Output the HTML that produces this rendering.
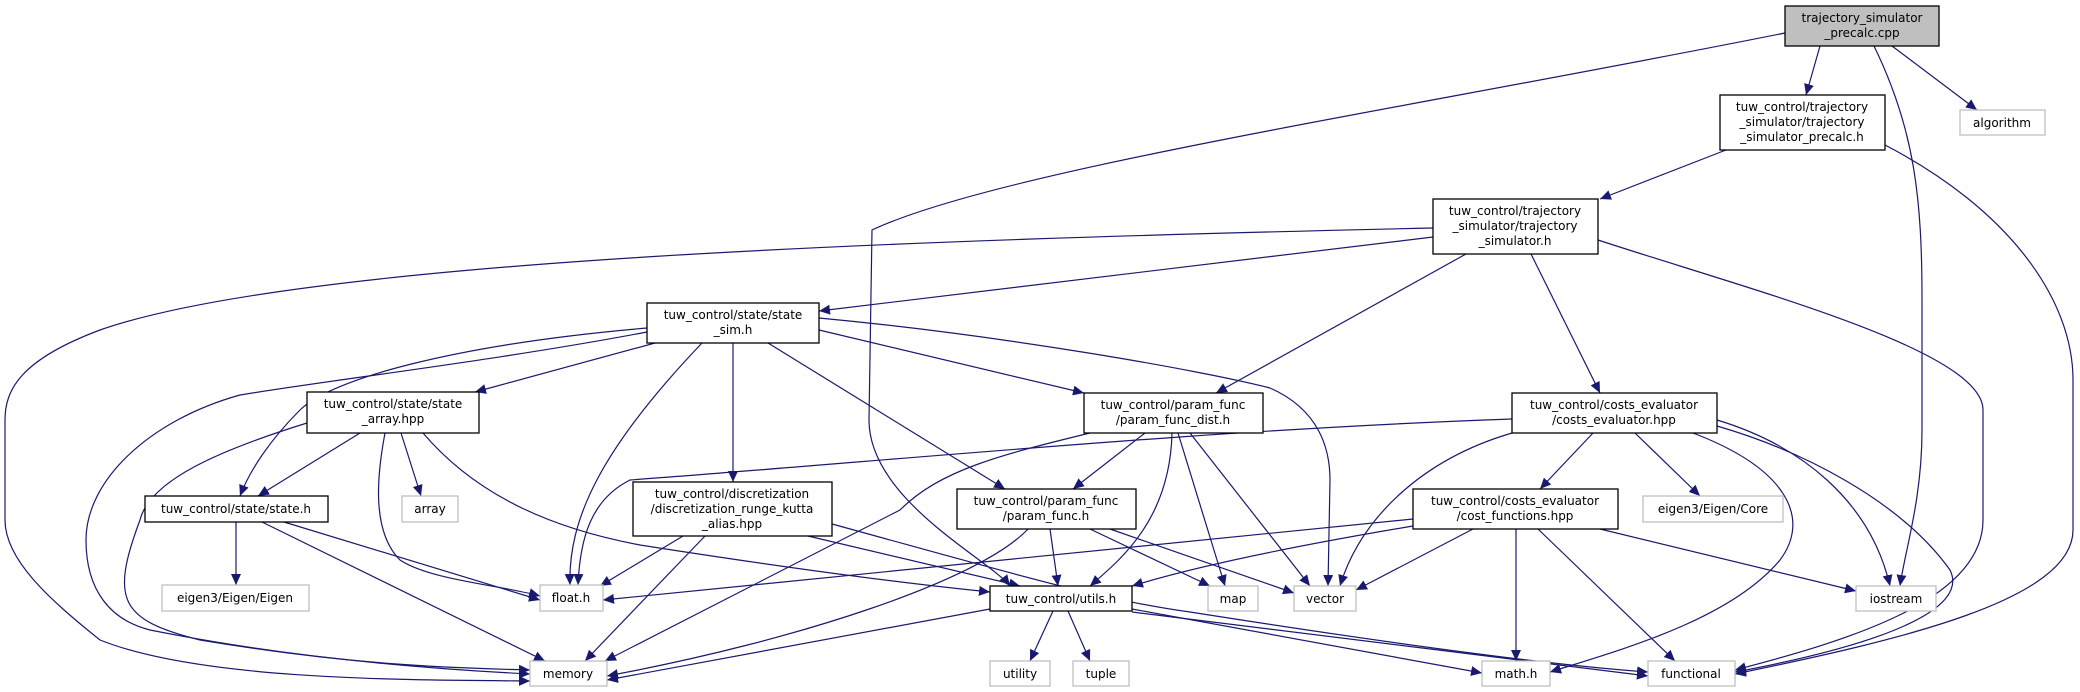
<!DOCTYPE html>
<html><head><meta charset="utf-8"><style>
html,body{margin:0;padding:0;background:#fff;}
svg{display:block}
text{font-family:"DejaVu Sans","Liberation Sans",sans-serif;font-size:12px;fill:#000;text-anchor:middle}
.n{fill:#fff;stroke:#000;stroke-width:1.3}
.x{fill:#fff;stroke:#bfbfbf;stroke-width:1.3}
.e{fill:none;stroke:#191970;stroke-width:1.2;marker-end:url(#a)}
</style></head><body>
<svg width="2080" height="692" viewBox="0 0 2080 692" xmlns="http://www.w3.org/2000/svg">
<defs><marker id="a" markerUnits="userSpaceOnUse" markerWidth="12" markerHeight="12" refX="11" refY="5" orient="auto"><path d="M0,0 L11,5 L0,10 z" fill="#191970"/></marker></defs>
<g>
<path class="e" d="M1785,33 C1400,110 1000,170 872,230 L869,420 C869,500 990,560 1010,586"/>
<path class="e" d="M1820,46 L1806,95"/>
<path class="e" d="M1874,46 C1915,130 1922,200 1922,300 L1922,430 C1922,500 1905,550 1900,586"/>
<path class="e" d="M1892,46 L1977,110"/>
<path class="e" d="M1726,150 L1600,199"/>
<path class="e" d="M1885,145 C2010,210 2073,300 2073,380 L2073,530 C2073,600 1900,640 1735,674"/>
<path class="e" d="M1433,228 C900,240 300,260 100,330 C20,360 5,390 5,420 L5,520 C5,560 50,600 100,640 C200,680 400,680 530,681"/>
<path class="e" d="M1433,237 L819,311"/>
<path class="e" d="M1466,254 L1216,393"/>
<path class="e" d="M1531,254 L1600,393"/>
<path class="e" d="M1598,240 C1750,290 1983,350 1983,410 L1983,520 C1983,600 1850,640 1735,670"/>
<path class="e" d="M655,343 L475,392"/>
<path class="e" d="M647,328 C450,345 330,380 300,410 C270,440 250,470 240,496"/>
<path class="e" d="M647,332 C500,360 330,380 240,395 C150,420 86,480 86,540 C86,590 110,620 150,630 C300,660 450,670 530,674"/>
<path class="e" d="M702,343 C600,450 568,520 570,585"/>
<path class="e" d="M733,343 L733,482"/>
<path class="e" d="M768,343 L1005,489"/>
<path class="e" d="M819,330 L1084,393"/>
<path class="e" d="M819,318 C1000,335 1200,370 1270,388 C1320,410 1330,450 1330,480 L1328,586"/>
<path class="e" d="M360,433 L258,496"/>
<path class="e" d="M401,433 L421,496"/>
<path class="e" d="M385,433 C378,470 370,530 400,560 C430,580 500,585 540,596"/>
<path class="e" d="M307,423 C220,450 150,480 140,520 C110,600 120,620 200,640 C350,665 450,668 530,670"/>
<path class="e" d="M423,433 C480,500 560,530 640,545 C800,570 920,585 990,592"/>
<path class="e" d="M236,522 L236,585"/>
<path class="e" d="M284,522 L540,600"/>
<path class="e" d="M262,522 L545,661"/>
<path class="e" d="M683,536 L600,586"/>
<path class="e" d="M705,536 L585,661"/>
<path class="e" d="M808,536 L1020,586"/>
<path class="e" d="M832,524 C1000,570 1100,600 1190,612 C1400,645 1550,665 1648,672"/>
<path class="e" d="M1090,433 C1000,455 940,470 900,510 L605,661"/>
<path class="e" d="M1145,433 L1073,489"/>
<path class="e" d="M1172,433 C1170,520 1120,560 1090,586"/>
<path class="e" d="M1178,433 L1225,586"/>
<path class="e" d="M1190,433 L1310,586"/>
<path class="e" d="M1028,529 C980,580 800,640 607,676"/>
<path class="e" d="M1050,529 L1058,586"/>
<path class="e" d="M1090,529 L1210,586"/>
<path class="e" d="M1110,529 L1294,593"/>
<path class="e" d="M990,609 L607,680"/>
<path class="e" d="M1053,611 L1030,661"/>
<path class="e" d="M1068,611 L1090,661"/>
<path class="e" d="M1132,609 L1482,673"/>
<path class="e" d="M1132,612 L1648,676"/>
<path class="e" d="M1512,419 C1200,430 900,460 630,480 C590,500 580,540 578,585"/>
<path class="e" d="M1512,433 C1420,460 1360,520 1340,586"/>
<path class="e" d="M1593,433 L1540,489"/>
<path class="e" d="M1635,433 L1700,496"/>
<path class="e" d="M1693,433 C1790,470 1810,520 1780,560 C1730,620 1620,650 1550,672"/>
<path class="e" d="M1717,420 C1800,445 1870,500 1890,586"/>
<path class="e" d="M1717,426 C1800,450 1900,500 1950,570 C1970,610 1880,645 1735,672"/>
<path class="e" d="M1413,519 L603,600"/>
<path class="e" d="M1413,526 C1300,545 1200,565 1132,586"/>
<path class="e" d="M1473,529 L1356,590"/>
<path class="e" d="M1516,529 L1516,661"/>
<path class="e" d="M1538,529 L1675,661"/>
<path class="e" d="M1600,529 L1856,591"/>
</g>
<g>
<rect x="1785" y="6" width="154" height="40" fill="#bfbfbf" stroke="#000" stroke-width="1.3"/>
<text x="1862" y="22">trajectory_simulator</text><text x="1862" y="37">_precalc.cpp</text>

<rect class="n" x="1720" y="95" width="165" height="55"/>
<text x="1802" y="111">tuw_control/trajectory</text><text x="1802" y="126">_simulator/trajectory</text><text x="1802" y="141">_simulator_precalc.h</text>

<rect class="x" x="1960" y="110" width="85" height="25"/><text x="2002" y="127">algorithm</text>

<rect class="n" x="1433" y="199" width="165" height="55"/>
<text x="1515" y="215">tuw_control/trajectory</text><text x="1515" y="230">_simulator/trajectory</text><text x="1515" y="245">_simulator.h</text>

<rect class="n" x="647" y="303" width="172" height="40"/>
<text x="733" y="319">tuw_control/state/state</text><text x="733" y="334">_sim.h</text>

<rect class="n" x="307" y="392" width="172" height="41"/>
<text x="393" y="408">tuw_control/state/state</text><text x="393" y="423">_array.hpp</text>

<rect class="n" x="1084" y="393" width="179" height="40"/>
<text x="1173" y="409">tuw_control/param_func</text><text x="1173" y="424">/param_func_dist.h</text>

<rect class="n" x="1512" y="393" width="205" height="40"/>
<text x="1614" y="409">tuw_control/costs_evaluator</text><text x="1614" y="424">/costs_evaluator.hpp</text>

<rect class="n" x="145" y="496" width="183" height="26"/><text x="236" y="513">tuw_control/state/state.h</text>
<rect class="x" x="402" y="496" width="56" height="26"/><text x="430" y="513">array</text>

<rect class="n" x="633" y="482" width="199" height="54"/>
<text x="732" y="498">tuw_control/discretization</text><text x="732" y="513">/discretization_runge_kutta</text><text x="732" y="528">_alias.hpp</text>

<rect class="n" x="957" y="489" width="179" height="40"/>
<text x="1046" y="505">tuw_control/param_func</text><text x="1046" y="520">/param_func.h</text>

<rect class="n" x="1413" y="489" width="205" height="40"/>
<text x="1515" y="505">tuw_control/costs_evaluator</text><text x="1515" y="520">/cost_functions.hpp</text>

<rect class="x" x="1643" y="496" width="140" height="26"/><text x="1713" y="513">eigen3/Eigen/Core</text>

<rect class="x" x="162" y="585" width="147" height="26"/><text x="235" y="602">eigen3/Eigen/Eigen</text>
<rect class="x" x="540" y="585" width="63" height="26"/><text x="571" y="602">float.h</text>
<rect class="n" x="990" y="586" width="142" height="25"/><text x="1061" y="603">tuw_control/utils.h</text>
<rect class="x" x="1208" y="586" width="50" height="25"/><text x="1233" y="603">map</text>
<rect class="x" x="1294" y="586" width="62" height="25"/><text x="1325" y="603">vector</text>
<rect class="x" x="1856" y="586" width="80" height="25"/><text x="1896" y="603">iostream</text>

<rect class="x" x="530" y="661" width="77" height="25"/><text x="568" y="678">memory</text>
<rect class="x" x="990" y="661" width="60" height="25"/><text x="1020" y="678">utility</text>
<rect class="x" x="1073" y="661" width="56" height="25"/><text x="1101" y="678">tuple</text>
<rect class="x" x="1482" y="661" width="68" height="25"/><text x="1516" y="678">math.h</text>
<rect class="x" x="1648" y="661" width="87" height="25"/><text x="1691" y="678">functional</text>
</g>
</svg>
</body></html>
